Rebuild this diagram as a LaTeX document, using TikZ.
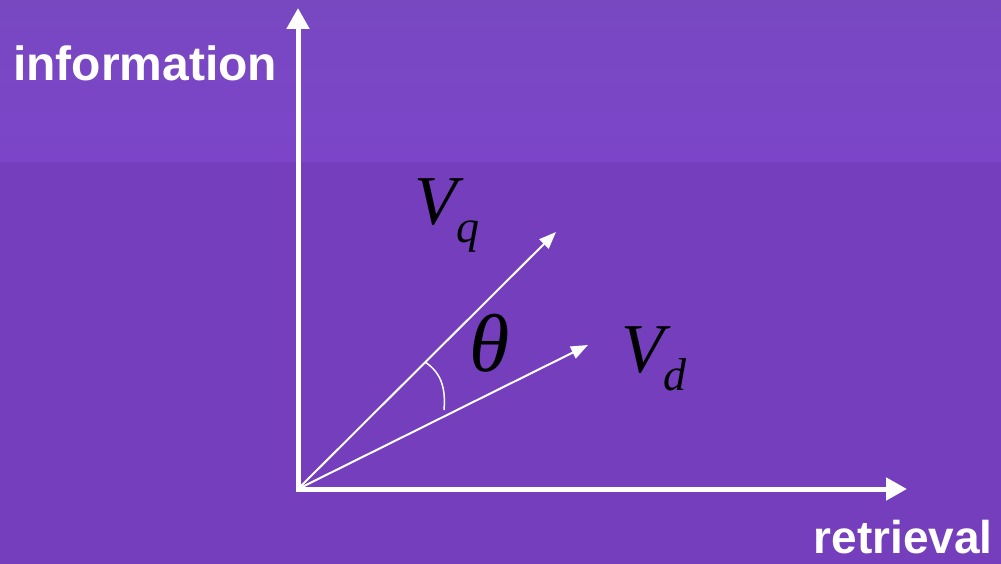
\documentclass[tikz,border=0pt]{standalone}
\usepackage{fontspec}
\setsansfont{Liberation Sans}
\newfontfamily\serifit{Liberation Serif}
\usetikzlibrary{arrows.meta}
\definecolor{fundo}{RGB}{116,62,188}
\definecolor{faixa}{RGB}{124,69,201}
\definecolor{faixatopo}{RGB}{120,72,193}
\newcommand{\sub}[1]{\raisebox{-18pt}{\fontsize{46}{48}\selectfont #1}}

\begin{document}
\begin{tikzpicture}[x=1pt, y=-1pt,
    eixo/.style={white, line width=5pt, -{Triangle[length=21pt, width=22pt]}},
    vetor/.style={white, line width=2pt, -{Triangle[length=17pt, width=13pt]}},
    rotulo/.style={white, inner sep=0pt, text depth=0pt, font=\fontsize{48}{52}\sffamily\bfseries},
    simbolo/.style={black, inner sep=0pt, font=\fontsize{70}{72}\serifit\itshape}]
    \useasboundingbox (0,0) rectangle (1001,564);
    % fundo: faixa clara no topo
    \fill[fundo] (0,0) rectangle (1001,564);
    \shade[top color=faixatopo, bottom color=faixa] (0,0) rectangle (1001,162);
    \coordinate (O) at (298,489);
    \coordinate (ytip) at (298,8);
    \coordinate (xtip) at (907,489);
    \coordinate (qtip) at (556,232);
    \coordinate (dtip) at (588,345);
    % eixos
    \draw[eixo] ([yshift=-2.5pt]O) -- (ytip);
    \draw[eixo] ([xshift=-2.5pt]O) -- (xtip);
    \node[rotulo, anchor=base west] (info) at (13,81) {information};
    \node[rotulo, anchor=base east, font=\fontsize{46}{50}\sffamily\bfseries] (retr) at (993,553) {retrieval};
    % vetores
    \draw[vetor] (O) -- (qtip);
    \draw[vetor] (O) -- (dtip);
    \draw[white, line width=1.5pt] (425,362) .. controls (440,372) and (446,386) .. (444,410);
    \node[simbolo, anchor=base west] (vq) at (414,225) {V\sub{q}};
    \node[simbolo, anchor=base west] (vd) at (621,372) {V\sub{d}};
    \node[simbolo, anchor=base west, font=\fontsize{82}{84}\serifit\itshape] (theta) at (469,371) {θ};
\end{tikzpicture}
\end{document}
